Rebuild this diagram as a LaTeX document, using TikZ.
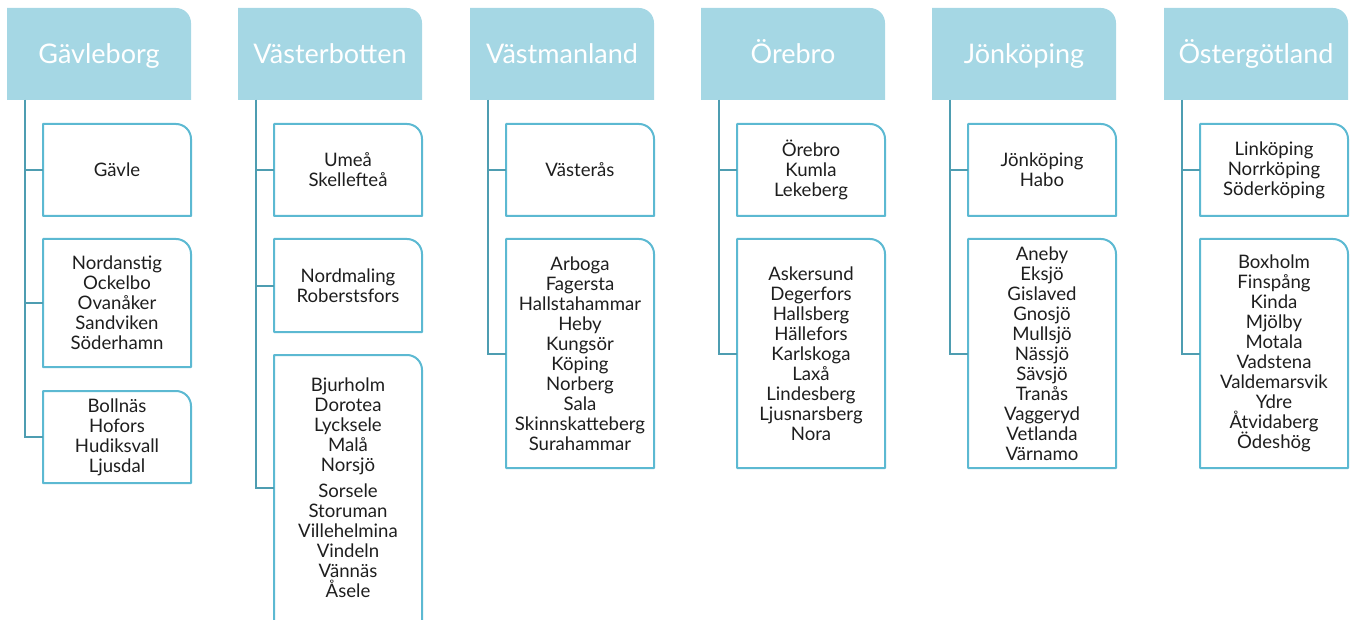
\documentclass[tikz,border=0pt]{standalone}
\usepackage{fontspec}
\setmainfont{Lato}
\usetikzlibrary{backgrounds}
\definecolor{hdrfill}{HTML}{A5D7E4}
\definecolor{bxline}{HTML}{5CB9D2}
\definecolor{connline}{HTML}{4E9DB1}
\definecolor{txt}{HTML}{1E1E1E}
\tikzset{
  hdr/.style={inner sep=0pt, outer sep=0pt, minimum width=184pt, minimum height=92pt,
    text=white, text height=19pt, text depth=0pt, font=\fontsize{27}{30}\selectfont},
  bx/.style={inner sep=0pt, outer sep=0pt, minimum width=148pt, text width=148pt,
    align=center, text=txt, font=\fontsize{18.6}{20}\selectfont},
  bxout/.style={draw=bxline, line width=2pt, line join=round},
  hdrfillst/.style={fill=hdrfill},
  conn/.style={draw=connline, line width=2pt},
  trshape/.style={insert path={(#1.south west) -- (#1.north west) -- ([xshift=-15pt]#1.north east) arc[start angle=90,end angle=0,radius=15pt] -- (#1.south east) -- cycle}},
}
\begin{document}
\begin{tikzpicture}[x=1pt,y=-1pt]
\useasboundingbox (0,0) rectangle (1351,620);
% headers
\node[hdr] (h1) at (99,54) {Gävleborg};
\node[hdr] (h2) at (330,54) {Västerbotten};
\node[hdr] (h3) at (562,54) {Västmanland};
\node[hdr] (h4) at (793,54) {Örebro};
\node[hdr] (h5) at (1024,54) {Jönköping};
\node[hdr] (h6) at (1256,54) {Östergötland};
% column 1
\node[bx, minimum height=92pt] (b11) at (117,170) {Gävle};
\node[bx, minimum height=128pt] (b12) at (117,303) {Nordanstig\\Ockelbo\\Ovanåker\\Sandviken\\Söderhamn};
\node[bx, minimum height=92pt] (b13) at (117,437) {Bollnäs\\Hofors\\Hudiksvall\\Ljusdal};
% column 2
\node[bx, minimum height=92pt] (b21) at (348,170) {Umeå\\Skellefteå};
\node[bx, minimum height=93pt] (b22) at (348,285.5) {Nordmaling\\Roberstsfors};
\node[bx, minimum height=266pt] (b23) at (348,488) {Bjurholm\\Dorotea\\Lycksele\\Malå\\Norsjö\\[6pt]Sorsele\\Storuman\\Villehelmina\\Vindeln\\Vännäs\\Åsele};
% column 3
\node[bx, minimum height=92pt] (b31) at (580,170) {Västerås};
\node[bx, minimum height=229pt] (b32) at (580,353.5) {Arboga\\Fagersta\\Hallstahammar\\Heby\\Kungsör\\Köping\\Norberg\\Sala\\Skinnskatteberg\\Surahammar};
% column 4
\node[bx, minimum height=92pt] (b41) at (811,170) {Örebro\\Kumla\\Lekeberg};
\node[bx, minimum height=229pt] (b42) at (811,353.5) {Askersund\\Degerfors\\Hallsberg\\Hällefors\\Karlskoga\\Laxå\\Lindesberg\\Ljusnarsberg\\Nora};
% column 5
\node[bx, minimum height=92pt] (b51) at (1042,170) {Jönköping\\Habo};
\node[bx, minimum height=229pt] (b52) at (1042,353.5) {Aneby\\Eksjö\\Gislaved\\Gnosjö\\Mullsjö\\Nässjö\\Sävsjö\\Tranås\\Vaggeryd\\Vetlanda\\Värnamo};
% column 6
\node[bx, minimum height=92pt] (b61) at (1274,170) {Linköping\\Norrköping\\Söderköping};
\node[bx, minimum height=229pt] (b62) at (1274,353.5) {Boxholm\\Finspång\\Kinda\\Mjölby\\Motala\\Vadstena\\Valdemarsvik\\Ydre\\Åtvidaberg\\Ödeshög};
\begin{pgfonlayer}{background}
  \foreach \h in {h1,h2,h3,h4,h5,h6} {\fill[hdrfillst, trshape=\h];}
  \foreach \b in {b11,b12,b13,b21,b22,b31,b32,b41,b42,b51,b52,b61,b62} {\draw[bxout, trshape=\b];}
  \draw[bxout] (b23.south west) -- (b23.north west) -- ([xshift=-15pt]b23.north east) arc[start angle=90,end angle=0,radius=15pt] -- ([yshift=-30pt]b23.south east);
  \draw[bxout] (b23.south west) -- ([yshift=-30pt]b23.south west);
  % connectors
  \foreach \h/\b in {h1/b11,h1/b12,h1/b13,h2/b21,h2/b22,h2/b23,h3/b31,h3/b32,h4/b41,h4/b42,h5/b51,h5/b52,h6/b61,h6/b62}
    {\draw[conn] ([xshift=18pt]\h.south west) |- (\b.west);}
\end{pgfonlayer}
\end{tikzpicture}
\end{document}
